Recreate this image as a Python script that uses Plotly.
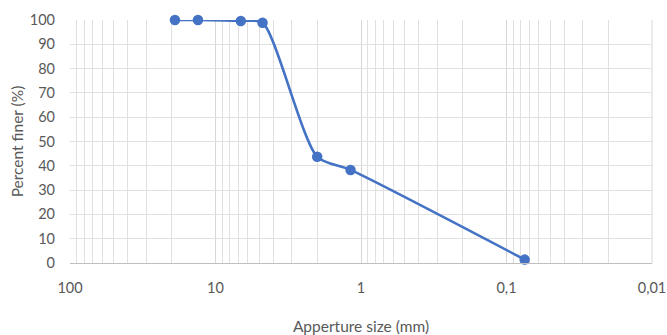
import plotly.graph_objects as go

# Sieve analysis: aperture size (mm) vs cumulative percent finer
aperture_mm = [19, 13.2, 6.7, 4.75, 2.0, 1.18, 0.075]
percent_finer = [100, 100, 99.6, 98.9, 43.7, 38.3, 1.4]

x_tick_vals = [100, 10, 1, 0.1, 0.01]
x_tick_text = ["100", "10", "1", "0,1", "0,01"]
y_tick_vals = list(range(0, 101, 10))

minor_vals = [m * 10 ** e for e in (-2, -1, 0, 1) for m in range(2, 10)]

blue = "#4472C4"
grid = "#e0e0e0"
text_grey = "#595959"
font_family = "Lato, 'Open Sans', sans-serif"

fig = go.Figure()
fig.add_trace(go.Scatter(
    x=aperture_mm,
    y=percent_finer,
    mode="lines+markers",
    line=dict(color=blue, width=2.6, shape="spline", smoothing=0.7),
    marker=dict(color=blue, size=10.5),
    cliponaxis=False,
    showlegend=False,
))

fig.update_layout(
    width=667,
    height=335,
    margin=dict(l=70, r=15, t=20, b=72),
    paper_bgcolor="white",
    plot_bgcolor="white",
    font=dict(family=font_family, size=14, color=text_grey),
    xaxis=dict(
        type="log",
        range=[2, -2],
        tickvals=x_tick_vals,
        ticktext=x_tick_text,
        showgrid=True,
        gridcolor="#d6d6d6",
        gridwidth=1,
        minor=dict(tickvals=minor_vals, showgrid=True, gridcolor=grid, gridwidth=1, ticks=""),
        showline=True,
        linecolor="#bfbfbf",
        linewidth=1,
        mirror=False,
        ticks="",
        zeroline=False,
        automargin=False,
        ticklabelstandoff=12,
        title=dict(text="Apperture size (mm)", font=dict(size=15.5, color=text_grey), standoff=28),
        tickfont=dict(size=14.5, color=text_grey),
    ),
    yaxis=dict(
        range=[0, 100],
        tickvals=y_tick_vals,
        showgrid=True,
        gridcolor=grid,
        gridwidth=1,
        zeroline=False,
        showline=False,
        ticks="",
        automargin=False,
        ticklabelstandoff=14,
        title=dict(text="Percent finer (%)", font=dict(size=15.5, color=text_grey), standoff=2),
        tickfont=dict(size=14.5, color=text_grey),
    ),
)

# Right-hand border of the plotting area
fig.add_shape(type="line", xref="paper", yref="paper", x0=1, x1=1, y0=0, y1=1,
              line=dict(color="#d6d6d6", width=1), layer="below")

fig.write_html("out.html")
